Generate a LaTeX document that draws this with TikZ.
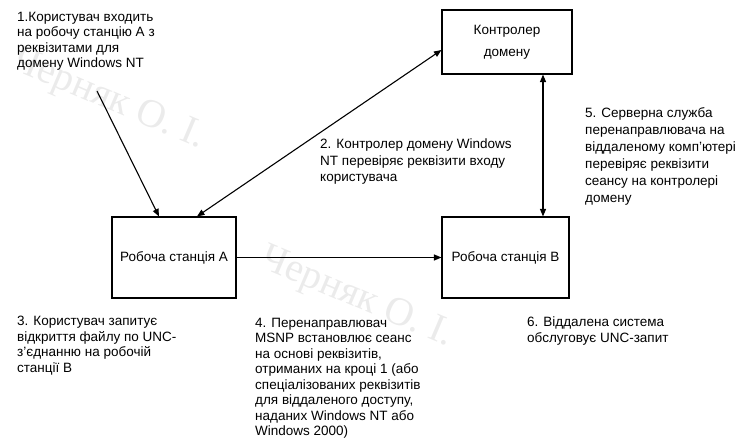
\documentclass[tikz,border=0pt]{standalone}
\usepackage{fontspec}
\setmainfont{Liberation Sans}
\newfontfamily\wmfont{Liberation Serif}
\usetikzlibrary{arrows.meta}
\begin{document}
\begin{tikzpicture}[x=1pt,y=-1pt,
  box/.style={draw, line width=1.1pt, inner sep=0pt, align=center, font=\fontsize{13.5}{22}\selectfont},
  note/.style={anchor=north west, inner sep=0pt, align=left, font=\fontsize{13.5}{15.5}\selectfont},
  tip/.tip={Triangle[length=7.5pt,width=6pt]},
  arr/.style={line width=1.1pt, -tip},
  darr/.style={line width=1.1pt, tip-tip},
  wm/.style={text=gray!16, font=\wmfont\fontsize{40}{40}\selectfont, rotate=-23, anchor=west, inner sep=0pt}]
\useasboundingbox (0,0) rectangle (751,443);
% faint watermarks
\node[wm] (w1) at (14,60) {Черняк О. І.};
\node[wm] (w2) at (262,258) {Черняк О. І.};
% boxes
\node[box, minimum width=130pt, minimum height=64pt] (K) at (507,42) {Контролер\\домену};
\node[box, minimum width=124pt, minimum height=81pt] (A) at (174,257.5) {Робоча станція А};
\node[box, minimum width=127pt, minimum height=81pt] (B) at (505.5,257.5) {Робоча станція В};
% notes
\node[note] (t1) at (17,12) {1.Користувач входить\\на робочу станцію А з\\реквізитами для\\домену Windows NT};
\node[note, font=\fontsize{13.5}{16.5}\selectfont] (t2) at (320,139) {2. Контролер домену Windows\\NT перевіряє реквізити входу\\користувача};
\node[note] (t3) at (17,316) {3. Користувач запитує\\відкриття файлу по UNC-\\з’єднанню на робочій\\станції В};
\node[note] (t4) at (255,318) {4. Перенаправлювач\\MSNP встановлює сеанс\\на основі реквізитів,\\отриманих на кроці 1 (або\\спеціалізованих реквізитів\\для віддаленого доступу,\\наданих Windows NT або\\Windows 2000)};
\node[note, font=\fontsize{13.5}{17}\selectfont] (t5) at (585,107) {5. Серверна служба\\перенаправлювача на\\віддаленому комп’ютері\\перевіряє реквізити\\сеансу на контролері\\домену};
\node[note] (t6) at (527,317) {6. Віддалена система\\обслуговує UNC-запит};
% connectors
\coordinate (s1) at (97,91);
\coordinate (v) at (543,0);
\draw[arr] (s1) -- ([xshift=-15pt]A.north);
\draw[darr] ([xshift=23pt]A.north) -- ([yshift=-8pt]K.west);
\draw[darr] (K.south -| v) -- (B.north -| v);
\draw[arr] (A.east) -- (B.west);
\end{tikzpicture}
\end{document}
